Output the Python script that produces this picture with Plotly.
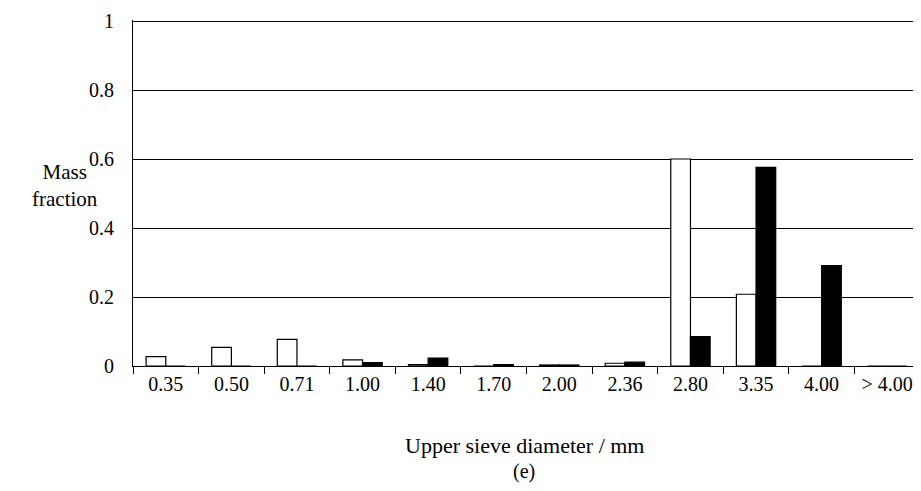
import plotly.graph_objects as go

categories = ["0.35", "0.50", "0.71", "1.00", "1.40", "1.70", "2.00", "2.36", "2.80", "3.35", "4.00", "> 4.00"]
white_series = [0.027, 0.054, 0.077, 0.018, 0.004, 0.0, 0.003, 0.008, 0.600, 0.208, 0.0, 0.0]
black_series = [0.0, 0.0, 0.0, 0.010, 0.023, 0.004, 0.003, 0.011, 0.085, 0.576, 0.291, 0.0]
y_ticks = [0, 0.2, 0.4, 0.6, 0.8, 1]
y_tick_labels = ["0", "0.2", "0.4", "0.6", "0.8", "1"]

FONT = "Liberation Serif"
FS_TICK = 20
FS_TITLE = 22
FS_Y = 21

# page has an 8px body margin; keep the figure inside the window (no scrollbars)
OFF = 8
W, H = 913, 475
# target plot area in window pixels: x 133..920, y 20..366
L, T = 133 - OFF, 20 - OFF
R = OFF + W - 920
B = OFF + H - 366
plot_w = W - L - R
plot_h = H - T - B


def px_to_paper(xpix, ypix):
    return (xpix - OFF - L) / plot_w, (OFF + H - B - ypix) / plot_h


fig = go.Figure()
fig.add_trace(go.Bar(x=categories, y=white_series, name="white",
                     marker=dict(color="white", line=dict(color="black", width=1.2))))
fig.add_trace(go.Bar(x=categories, y=black_series, name="black",
                     marker=dict(color="black", line=dict(color="black", width=1.2))))

mx, my = px_to_paper(65, 185)
tx, ty = px_to_paper(524, 446)
ex, ey = px_to_paper(524, 471)

ann_common = dict(xref="paper", yref="paper", showarrow=False,
                  xanchor="center", yanchor="middle")

fig.update_layout(
    width=W, height=H,
    margin=dict(l=L, r=R, t=T, b=B),
    paper_bgcolor="white", plot_bgcolor="white",
    barmode="group", bargap=0.4, bargroupgap=0,
    showlegend=False,
    font=dict(family=FONT, size=FS_TICK, color="black"),
    xaxis=dict(
        type="category",
        showline=True, linecolor="black", linewidth=1.2,
        ticks="outside", tickson="boundaries", ticklen=7, tickcolor="black", tickwidth=1.2,
        showgrid=False,
        tickfont=dict(family=FONT, size=FS_TICK, color="black"),
    ),
    yaxis=dict(
        range=[0, 1.003],
        tickvals=y_ticks, ticktext=y_tick_labels,
        showgrid=True, gridcolor="black", gridwidth=1.2,
        showline=True, linecolor="black", linewidth=1.2,
        zeroline=False, ticks="",
        ticklabelstandoff=14,
        tickfont=dict(family=FONT, size=FS_TICK, color="black"),
    ),
    annotations=[
        dict(text="Mass<br>fraction", x=mx, y=my,
             font=dict(family=FONT, size=FS_Y, color="black"), **ann_common),
        dict(text="Upper sieve diameter / mm", x=tx, y=ty,
             font=dict(family=FONT, size=FS_TITLE, color="black"), **ann_common),
        dict(text="(e)", x=ex, y=ey,
             font=dict(family=FONT, size=20, color="black"), **ann_common),
    ],
)

fig.write_html("out.html")
